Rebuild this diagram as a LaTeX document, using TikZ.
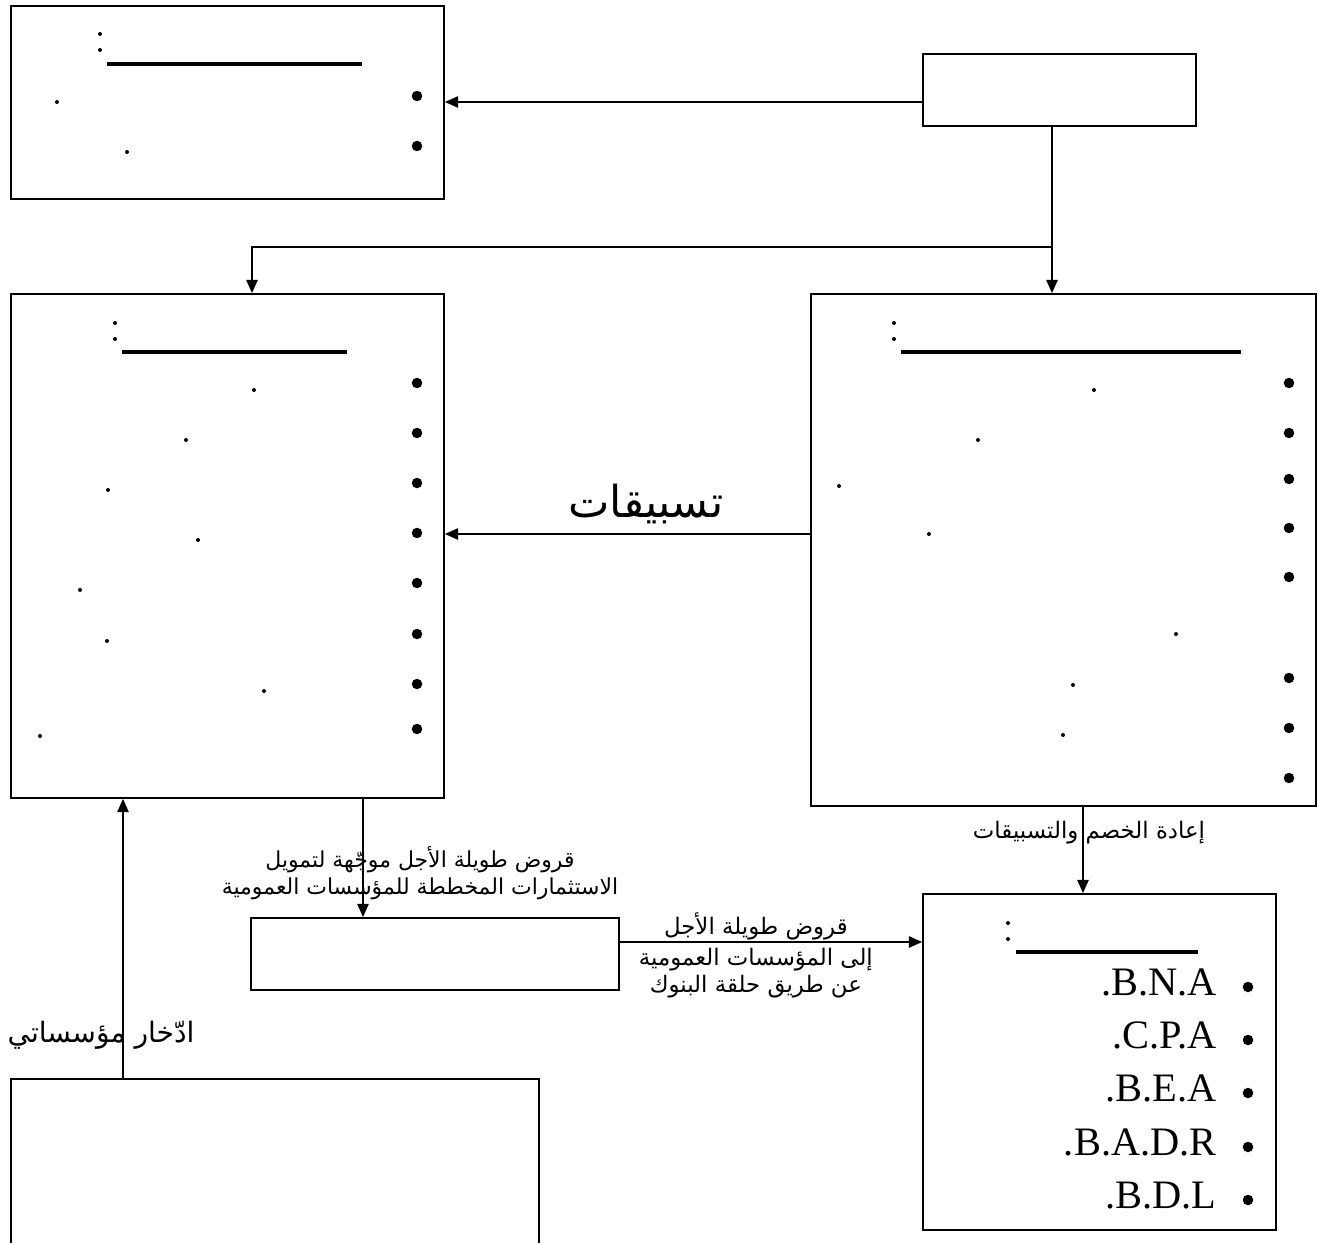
\documentclass[tikz,border=0pt]{standalone}
\usepackage{fontspec}
\setmainfont{Liberation Serif}
\newfontfamily\arabicfont[Script=Arabic]{DejaVu Sans}
\TeXXeTstate=1
\usetikzlibrary{arrows.meta}

\newcommand{\artext}[1]{{\arabicfont\beginR #1\endR}}

\begin{document}
\begin{tikzpicture}[x=0.02cm, y=-0.02cm,
    box/.style={rectangle, draw=black, line width=1.1pt, inner sep=0pt},
    arr/.style={-{Triangle[length=7.5pt, width=6.5pt]}, line width=0.7pt},
    link/.style={line width=0.7pt},
    lbl/.style={font=\fontsize{13}{15}\selectfont, align=center, inner sep=1pt},
    rule/.style={line width=1.8pt},
    bank/.style={anchor=base east, inner sep=0pt, font=\fontsize{23}{27}\selectfont}]
  \useasboundingbox (0,0) rectangle (1318,1243);

  % Kaesten
  \node[box, minimum width=8.66cm, minimum height=3.86cm] (tl) at (227.5,102.5) {};
  \node[box, minimum width=5.46cm, minimum height=1.44cm] (tr) at (1059.5,90) {};
  \node[box, minimum width=8.66cm, minimum height=10.08cm] (ml) at (227.5,546) {};
  \node[box, minimum width=10.10cm, minimum height=10.24cm] (mr) at (1063.5,550) {};
  \node[box, minimum width=7.36cm, minimum height=1.44cm] (mid) at (435,954) {};
  \node[box, minimum width=7.06cm, minimum height=6.72cm] (br) at (1099.5,1062) {};
  \node[box, minimum width=10.56cm, minimum height=4.42cm] (bl) at (275,1189.5) {};

  % Ueberschriften (Doppelpunkt und Strich)
  \foreach \x/\y in {100/34, 115/323, 894/323, 1008/923}
    \fill (\x,\y) circle (0.04cm) (\x,\y+16) circle (0.04cm);
  \draw[rule] (107,64) -- (362,64);
  \draw[rule] (122,352) -- (347,352);
  \draw[rule] (901,352) -- (1241,352);
  \draw[rule] (1016,952) -- (1198,952);

  % Aufzaehlungspunkte
  \foreach \x/\y in {417/96, 417/146,
      417/383, 417/433, 417/483, 417/533, 417/583, 417/634, 417/684, 417/729,
      1289/383, 1289/433, 1289/479, 1289/528, 1289/577, 1289/678, 1289/728, 1289/778,
      1248/987, 1248/1040, 1248/1093, 1248/1147, 1248/1200}
    \fill (\x,\y) circle (0.105cm);

  % Punkte am Zeilenende
  \foreach \x/\y in {57/102, 127/152,
      254/390, 186/440, 108/490, 198/540, 80/590, 107/641, 264/691, 40/736,
      1094/390, 978/440, 839/486, 929/534, 1176/634, 1073/685, 1063/735}
    \fill (\x,\y) circle (0.04cm);

  % Banken
  \node[bank] (bna) at (1217,995) {.B.N.A};
  \node[bank] (cpa) at (1217,1048) {.C.P.A};
  \node[bank] (bea) at (1217,1101) {.B.E.A};
  \node[bank] (badr) at (1217,1155) {.B.A.D.R};
  \node[bank] (bdl) at (1217,1208) {.B.D.L};

  % Pfeile oben
  \coordinate (fork) at (1052,247);
  \draw[arr] (tr.west |- 0,102) -- (tl.east |- 0,102);
  \draw[link] (tr.south -| fork) -- (fork);
  \draw[arr] (fork) -- (fork |- mr.north);
  \draw[arr] (fork) -| (ml.north -| 252,0);

  % Tasbiqat
  \draw[arr] (mr.west |- 0,534) -- node[pos=0.45, anchor=base, yshift=0.34cm, font=\fontsize{25}{30}\selectfont] {\artext{تسبيقات}} (ml.east |- 0,534);

  % Kredite
  \draw[arr] (ml.south -| 363,0) -- node[lbl, pos=0.63, xshift=1.14cm, font=\fontsize{12.5}{15}\selectfont] {\artext{قروض طويلة الأجل موجّهة لتمويل}\\ \artext{الاستثمارات المخططة للمؤسسات العمومية}} (mid.north -| 363,0);
  \draw[arr] (mid.east |- 0,942) -- node[lbl, pos=0.45, above] {\artext{قروض طويلة الأجل}} node[lbl, pos=0.45, below, yshift=-0.08cm] {\artext{إلى المؤسسات العمومية}\\ \artext{عن طريق حلقة البنوك}} (br.west |- 0,942);
  \draw[arr] (mr.south -| 1083,0) -- node[lbl, pos=0.3, xshift=0.12cm] {\artext{إعادة الخصم والتسبيقات}} (br.north -| 1083,0);

  % Sparen
  \draw[arr] (bl.north -| 123,0) -- node[lbl, pos=0.153, xshift=-0.44cm, font=\fontsize{16}{19}\selectfont] {\artext{ادّخار مؤسساتي}} (ml.south -| 123,0);
\end{tikzpicture}
\end{document}
